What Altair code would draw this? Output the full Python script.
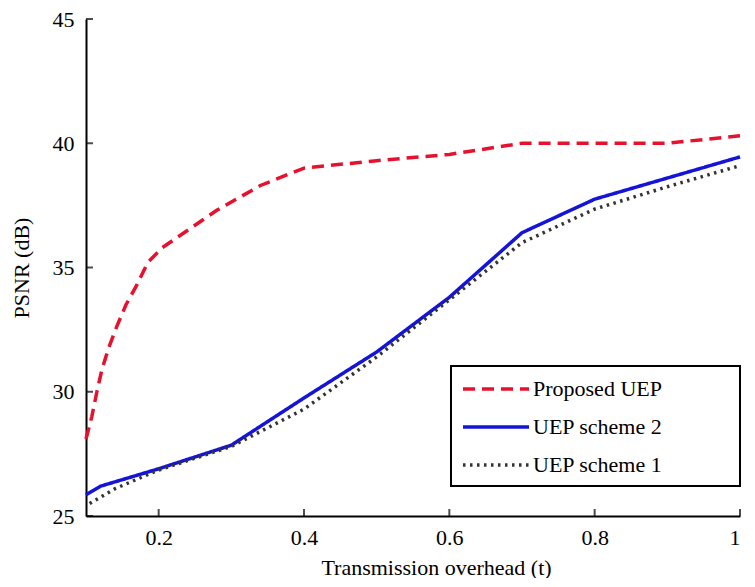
import altair as alt
import pandas as pd

series_names = ["Proposed UEP", "UEP scheme 2", "UEP scheme 1"]

x_proposed = [0.1, 0.108, 0.115, 0.122, 0.131, 0.142, 0.155, 0.17, 0.185, 0.205,
              0.235, 0.28, 0.34, 0.4, 0.5, 0.6, 0.7, 0.8, 0.9, 1.0]
y_proposed = [28.1, 29.0, 30.0, 30.9, 31.75, 32.6, 33.5, 34.3, 35.2, 35.8,
              36.4, 37.3, 38.3, 39.0, 39.3, 39.55, 40.0, 40.0, 40.0, 40.3]

x_scheme2 = [0.1, 0.12, 0.2, 0.3, 0.4, 0.5, 0.6, 0.7, 0.8, 0.9, 1.0]
y_scheme2 = [25.85, 26.2, 26.9, 27.85, 29.75, 31.6, 33.8, 36.4, 37.75, 38.6, 39.45]

x_scheme1 = [0.105, 0.14, 0.2, 0.3, 0.4, 0.5, 0.6, 0.7, 0.8, 0.9, 1.0]
y_scheme1 = [25.5, 26.1, 26.85, 27.8, 29.3, 31.4, 33.7, 36.0, 37.35, 38.25, 39.1]

x_tick_values = [0.2, 0.4, 0.6, 0.8, 1.0]
y_tick_values = [25, 30, 35, 40, 45]

colors = ["#e8112d", "#1414d8", "#333333"]
dashes = [[12, 7], [1, 0], [2.5, 4.5]]

rows = []
for name, xs, ys in zip(series_names,
                        [x_proposed, x_scheme2, x_scheme1],
                        [y_proposed, y_scheme2, y_scheme1]):
    for xv, yv in zip(xs, ys):
        rows.append({"series": name, "t": xv, "psnr": yv})
df = pd.DataFrame(rows)

FONT = "Liberation Serif"
FS = 22
x_scale = alt.Scale(domain=[0.1, 1.0], nice=False, zero=False)
y_scale = alt.Scale(domain=[25, 45], nice=False, zero=False)

x_axis = alt.Axis(values=x_tick_values, format="~g",
                  title="Transmission overhead (t)",
                  labelPadding=11, titlePadding=9, labelFlush=True, titleX=350)
y_axis = alt.Axis(values=y_tick_values, title="PSNR (dB)",
                  labelPadding=12, titlePadding=19)

# legend symbol: a 66px stroke; the trailing moveTo only widens the legend box
legend = alt.Legend(
    title=None, orient="none", legendX=365, legendY=347,
    symbolType="M-1,0H5M22.6,0", symbolSize=484, symbolStrokeWidth=3.5,
    labelOffset=46, labelFont=FONT, labelFontSize=FS, labelColor="black",
    labelLimit=400, padding=10, rowPadding=14,
    strokeColor="black", fillColor="white", cornerRadius=0,
)

lines = alt.Chart(df).mark_line(strokeWidth=3.5).encode(
    x=alt.X("t:Q", scale=x_scale, axis=x_axis),
    y=alt.Y("psnr:Q", scale=y_scale, axis=y_axis),
    color=alt.Color("series:N", scale=alt.Scale(domain=series_names, range=colors),
                    legend=legend, sort=series_names),
    strokeDash=alt.StrokeDash("series:N",
                              scale=alt.Scale(domain=series_names, range=dashes),
                              legend=legend, sort=series_names),
    order=alt.Order("t:Q"),
)

xticks = alt.Chart(pd.DataFrame({"t": x_tick_values})).mark_tick(
    orient="vertical", size=7, thickness=2, yOffset=-3.5, color="black"
).encode(
    x=alt.X("t:Q", scale=x_scale, axis=x_axis),
    y=alt.YDatum(25, axis=y_axis),
)

yticks = alt.Chart(pd.DataFrame({"psnr": y_tick_values})).mark_tick(
    orient="horizontal", size=7, thickness=2, xOffset=3.5, color="black"
).encode(
    x=alt.XDatum(0.1, axis=x_axis),
    y=alt.Y("psnr:Q", scale=y_scale, axis=y_axis),
)

chart = alt.layer(xticks, yticks, lines).properties(
    width=739, height=570,
    autosize=alt.AutoSizeParams(type="fit", contains="padding"),
    padding={"left": 2, "top": 0, "right": 0, "bottom": 0},
    background="white",
).configure_view(strokeWidth=0).configure_axis(
    grid=False, ticks=False, tickSize=0, domainColor="black", domainWidth=2,
    labelFont=FONT, labelFontSize=FS, labelColor="black",
    titleFont=FONT, titleFontSize=FS, titleFontWeight="normal", titleColor="black",
).configure_legend(strokeWidth=2)

chart.save("out.html", embed_options={"renderer": "svg", "actions": False})
